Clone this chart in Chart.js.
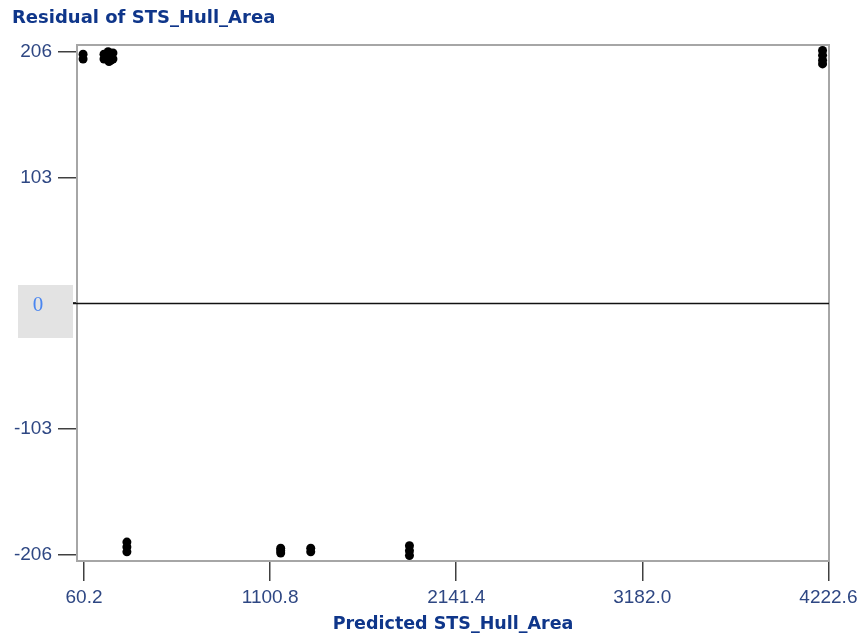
<!DOCTYPE html>
<html lang="en">
<head>
    <meta charset="UTF-8" />
    <title>Residual of STS_Hull_Area</title>
    <script src="https://cdn.jsdelivr.net/npm/chart.js"></script>
    <style>
        html, body { margin: 0; padding: 0; background: #fff; }
        #wrap { width: 858px; height: 635px; }
    </style>
</head>
<body>

<div id="wrap"><canvas id="residualChart" width="858" height="635"></canvas></div>

<script>
// Predicted value vs residual, one entry per observation
const predicted = [
    55, 55,
    172, 172, 195, 200, 200, 210, 222, 222,
    300, 300, 300,
    1160, 1160, 1160,
    1328, 1328,
    1880, 1880, 1880,
    4190, 4190, 4190, 4190
];
const residual = [
    204, 200,
    204, 200, 206, 202, 198, 199, 205, 200,
    -196, -200, -204,
    -201, -203, -205,
    -201, -204,
    -199, -203, -207,
    207, 203, 199, 196
];

const xTicks = [60.2, 1100.8, 2141.4, 3182.0, 4222.6];
const yTicks = [206, 103, 0, -103, -206];

const labelColor = '#2e4783';
const titleColor = '#0f368a';
const fontFamily = "'Liberation Sans', Arial, sans-serif";
const titleFamily = "'DejaVu Sans', Verdana, sans-serif";

// frame, zero reference line, highlighted zero label and the top title
const framePlugin = {
    id: 'frame',
    beforeDatasetsDraw(chart) {
        const { ctx, chartArea: a, scales } = chart;
        ctx.save();
        ctx.strokeStyle = '#a6a6a6';
        ctx.lineWidth = 2;
        ctx.strokeRect(a.left, a.top, a.right - a.left, a.bottom - a.top);
        const y0 = Math.round(scales.y.getPixelForValue(0)) + 0.5;
        ctx.strokeStyle = '#111';
        ctx.lineWidth = 1.5;
        ctx.beginPath();
        ctx.moveTo(a.left - 5, y0);
        ctx.lineTo(a.right, y0);
        ctx.stroke();
        ctx.restore();
    },
    afterDraw(chart) {
        const { ctx, scales } = chart;
        const y0 = scales.y.getPixelForValue(0);
        ctx.save();
        ctx.fillStyle = '#e3e3e3';
        ctx.fillRect(18, y0 - 18, 55, 53);
        ctx.fillStyle = '#4a86f0';
        ctx.font = "21px 'Liberation Serif', 'DejaVu Serif', serif";
        ctx.textAlign = 'center';
        ctx.textBaseline = 'middle';
        ctx.fillText('0', 38, y0 + 2);

        ctx.fillStyle = titleColor;
        ctx.font = 'bold 18px ' + titleFamily;
        ctx.textAlign = 'left';
        ctx.textBaseline = 'alphabetic';
        ctx.fillText('Residual of STS_Hull_Area', 12, 23);
        ctx.restore();
    }
};

const ctx = document.getElementById('residualChart').getContext('2d');
new Chart(ctx, {
    type: 'scatter',
    data: {
        datasets: [{
            data: predicted.map((x, i) => ({ x: x, y: residual[i] })),
            backgroundColor: '#000',
            borderColor: '#000',
            borderWidth: 0,
            pointRadius: 4.5,
            pointHoverRadius: 4.5
        }]
    },
    options: {
        responsive: false,
        animation: false,
        layout: { padding: { top: 45, right: 29, left: 0, bottom: 0 } },
        plugins: {
            legend: { display: false },
            tooltip: { enabled: false }
        },
        scales: {
            x: {
                type: 'linear',
                min: 21,
                max: 4226,
                afterBuildTicks: s => { s.ticks = xTicks.map(v => ({ value: v })); },
                afterFit: s => { s.height = 74; s.paddingLeft = 0; s.paddingRight = 0; },
                ticks: {
                    autoSkip: false,
                    maxRotation: 0,
                    padding: 5,
                    color: labelColor,
                    font: { family: fontFamily, size: 19 },
                    callback: v => Number(v).toFixed(1)
                },
                grid: {
                    drawOnChartArea: false,
                    tickLength: 20,
                    color: '#404040',
                    lineWidth: 1.5
                },
                border: { display: false },
                title: {
                    display: true,
                    text: 'Predicted STS_Hull_Area',
                    color: titleColor,
                    font: { family: titleFamily, size: 17.5, weight: 'bold' },
                    padding: { top: 0, bottom: 0 }
                }
            },
            y: {
                min: -211.5,
                max: 211.5,
                afterBuildTicks: s => { s.ticks = yTicks.map(v => ({ value: v })); },
                afterFit: s => { s.width = 77; },
                ticks: {
                    autoSkip: false,
                    padding: 6,
                    color: labelColor,
                    font: { family: fontFamily, size: 19 },
                    callback: v => (v === 0 ? '' : String(v))
                },
                grid: {
                    drawOnChartArea: false,
                    tickLength: 19,
                    color: '#404040',
                    lineWidth: 1.5
                },
                border: { display: false }
            }
        }
    },
    plugins: [framePlugin]
});
</script>

</body>
</html>
